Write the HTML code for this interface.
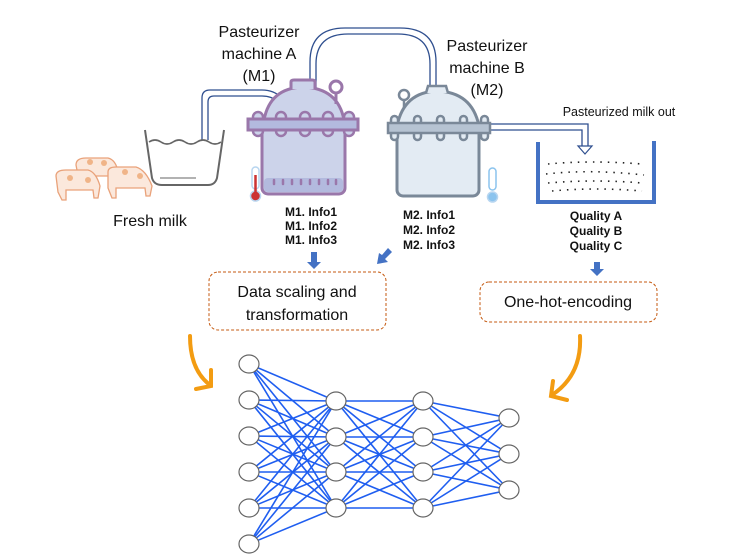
<!DOCTYPE html>
<html><head><meta charset="utf-8"><style>
html,body{margin:0;padding:0;background:#fff;}
svg{display:block;font-family:"Liberation Sans",sans-serif;}
</style></head><body>
<svg width="736" height="556" viewBox="0 0 736 556" xmlns="http://www.w3.org/2000/svg">
<!-- pipes -->
<g fill="none" stroke="#2f4f8f" stroke-width="1.3">
<path d="M202 140 V98 Q202 90 210 90 H262 Q274 90 282 98"/>
<path d="M208 140 V102 Q208 96 214 96 H262 Q272 96 278 102"/>
<path d="M310 92 V62 Q310 28 345 28 H400 Q436 28 436 62 V90"/>
<path d="M316 92 V64 Q316 34 348 34 H398 Q430 34 430 64 V90"/>
<path d="M490 124 H588 V146"/>
<path d="M490 130 H582 V146"/>
</g>
<path d="M578 146 H592 L585 154 Z" fill="#fff" stroke="#2f4f8f" stroke-width="1.2"/>
<!-- tub -->
<path d="M145 130 L152 178 Q154 185 162 185 H208 Q215 185 217 178 L224 130" fill="none" stroke="#666" stroke-width="2"/>
<path d="M149 142 q6 -4 12 0 t12 0 t12 0 t12 0 t12 0 t12 0" fill="none" stroke="#666" stroke-width="1.6"/>
<line x1="160" y1="178" x2="196" y2="178" stroke="#999" stroke-width="1.5"/>
<!-- cows -->
<g fill="#fbe8dc" stroke="#e9a27a" stroke-width="1.3">
<path d="M76 165 Q76 158 86 158 H108 Q116 160 118 172 L116 186 H112 L111 176 H84 V186 H80 Z"/>
<path d="M56 176 Q56 170 66 170 H88 Q96 172 100 186 L98 198 H94 L93 190 H66 V200 H62 L58 192 Z"/>
<path d="M108 172 Q108 167 116 167 H136 Q146 170 152 186 L150 196 H146 L145 188 H116 V198 H112 L108 188 Z"/>
</g>
<g fill="#f0b488"><circle cx="90" cy="162" r="3"/><circle cx="104" cy="163" r="3"/><circle cx="70" cy="178" r="3"/><circle cx="88" cy="180" r="3"/><circle cx="125" cy="172" r="3"/><circle cx="140" cy="176" r="3"/></g>
<text x="150" y="226" font-size="16" text-anchor="middle" fill="#111">Fresh milk</text>
<!-- machine A -->
<text font-size="16" text-anchor="middle" fill="#111"><tspan x="259" y="37">Pasteurizer</tspan><tspan x="259" y="59">machine A</tspan><tspan x="259" y="81">(M1)</tspan></text>
<rect x="262" y="126" width="83" height="68" rx="6" fill="#ccd3ea" stroke="#9a77aa" stroke-width="3"/>
<rect x="264" y="178" width="79" height="14" rx="4" fill="#b3bade"/>
<g stroke="#9a77aa" stroke-width="2.5" stroke-linecap="round"><line x1="274" y1="180" x2="274" y2="184"/><line x1="283" y1="180" x2="283" y2="184"/><line x1="292" y1="180" x2="292" y2="184"/><line x1="301" y1="180" x2="301" y2="184"/><line x1="310" y1="180" x2="310" y2="184"/><line x1="319" y1="180" x2="319" y2="184"/><line x1="328" y1="180" x2="328" y2="184"/><line x1="336" y1="180" x2="336" y2="184"/></g>
<path d="M264 120 Q270 88 303 87 Q338 88 344 120 Z" fill="#ccd3ea" stroke="#9a77aa" stroke-width="3"/>
<path d="M291 89 V82 Q291 80 294 80 H312 Q315 80 315 82 V89" fill="#ccd3ea" stroke="#9a77aa" stroke-width="3"/>
<line x1="336" y1="92" x2="336" y2="104" stroke="#9a77aa" stroke-width="3"/>
<circle cx="336" cy="87" r="6" fill="#fff" stroke="#9a77aa" stroke-width="3"/>
<g fill="#ccd3ea" stroke="#9a77aa" stroke-width="2.5"><rect x="253" y="112" width="10" height="24" rx="5"/><rect x="276" y="112" width="10" height="24" rx="5"/><rect x="300" y="112" width="10" height="24" rx="5"/><rect x="323" y="112" width="10" height="24" rx="5"/><rect x="344" y="112" width="10" height="24" rx="5"/></g>
<rect x="248" y="119" width="110" height="11" fill="#b3bade" stroke="#9a77aa" stroke-width="3"/>
<rect x="252" y="167" width="7" height="22" rx="3.5" fill="#fff" stroke="#b8d6f0" stroke-width="1.5"/>
<circle cx="255.5" cy="196" r="5" fill="#c33" stroke="#b8d6f0" stroke-width="1.5"/>
<line x1="255.5" y1="175" x2="255.5" y2="194" stroke="#c33" stroke-width="2.5"/>
<!-- machine B -->
<text font-size="16" text-anchor="middle" fill="#111"><tspan x="487" y="51">Pasteurizer</tspan><tspan x="487" y="73">machine B</tspan><tspan x="487" y="95">(M2)</tspan></text>
<rect x="397" y="128" width="82" height="68" rx="6" fill="#e3ebf3" stroke="#7a8898" stroke-width="3"/>
<path d="M397 126 Q404 92 437 91 Q472 92 479 126 Z" fill="#e3ebf3" stroke="#7a8898" stroke-width="3"/>
<path d="M426 93 L428 86 H446 L448 93" fill="#e3ebf3" stroke="#7a8898" stroke-width="2.5"/>
<line x1="404" y1="100" x2="404" y2="108" stroke="#7a8898" stroke-width="2.5"/>
<circle cx="404" cy="95" r="5" fill="#fff" stroke="#7a8898" stroke-width="2.5"/>
<g fill="#e3ebf3" stroke="#7a8898" stroke-width="2.5"><rect x="391" y="116" width="7" height="24" rx="3.5"/><rect x="414" y="116" width="7" height="24" rx="3.5"/><rect x="437" y="116" width="7" height="24" rx="3.5"/><rect x="460" y="116" width="7" height="24" rx="3.5"/><rect x="481" y="116" width="7" height="24" rx="3.5"/></g>
<rect x="388" y="123" width="102" height="10" fill="#b6c3d2" stroke="#7a8898" stroke-width="2.5"/>
<rect x="489" y="168" width="7" height="22" rx="3.5" fill="#fff" stroke="#8cc4ee" stroke-width="1.5"/>
<circle cx="492.5" cy="197" r="5" fill="#8cc4ee" stroke="#b8d6f0" stroke-width="1.5"/>
<!-- container -->
<text x="619" y="116" font-size="12.5" text-anchor="middle" fill="#111">Pasteurized milk out</text>
<path d="M538 142 V202 H654 V141" fill="none" stroke="#4472c4" stroke-width="4"/>
<g stroke="#222" stroke-width="1.6" fill="none" stroke-dasharray="1.5 6"><path d="M548 164 Q590 160 642 164"/><path d="M546 174 Q590 169 644 175"/><path d="M548 183 Q595 179 642 183"/><path d="M552 191 Q595 187 642 191"/></g>
<!-- info text -->
<g font-size="12" font-weight="bold" text-anchor="middle" fill="#111">
<text x="311" y="216">M1. Info1</text><text x="311" y="230">M1. Info2</text><text x="311" y="244">M1. Info3</text>
<text x="429" y="219">M2. Info1</text><text x="429" y="234">M2. Info2</text><text x="429" y="249">M2. Info3</text>
<text x="596" y="220">Quality A</text><text x="596" y="235">Quality B</text><text x="596" y="250">Quality C</text>
</g>
<!-- blue arrows -->
<g fill="#4472c4">
<path d="M311 252 H317 V262 H321 L314 269 L307 262 H311 Z"/>
<path d="M594 262 H600 V269 H604 L597 276 L590 269 H594 Z"/>
<path d="M388 248 L392 252 L385 259 L388 262 L377 264 L379 253 L382 255 Z"/>
</g>
<!-- boxes -->
<rect x="209" y="272" width="177" height="58" rx="9" fill="#fff" stroke="#c55a11" stroke-width="1" stroke-dasharray="3 2"/>
<text font-size="16" text-anchor="middle" fill="#111"><tspan x="297" y="297">Data scaling and</tspan><tspan x="297" y="320">transformation</tspan></text>
<rect x="480" y="282" width="177" height="40" rx="9" fill="#fff" stroke="#c55a11" stroke-width="1" stroke-dasharray="3 2"/>
<text x="568" y="307" font-size="16" text-anchor="middle" fill="#111">One-hot-encoding</text>
<!-- orange arrows -->
<g fill="none" stroke="#f39c12" stroke-width="4" stroke-linecap="round">
<path d="M190 336 Q190 370 210 385"/><path d="M196 389 L211 386 L211 370"/>
<path d="M580 336 Q582 375 552 395"/><path d="M553 381 L551 396 L567 400"/>
</g>
<!-- network -->
<g stroke="#1f5ef0" stroke-width="1.6">
<line x1="249" y1="364" x2="336" y2="401"/><line x1="249" y1="364" x2="336" y2="437"/><line x1="249" y1="364" x2="336" y2="472"/><line x1="249" y1="364" x2="336" y2="508"/>
<line x1="249" y1="400" x2="336" y2="401"/><line x1="249" y1="400" x2="336" y2="437"/><line x1="249" y1="400" x2="336" y2="472"/><line x1="249" y1="400" x2="336" y2="508"/>
<line x1="249" y1="436" x2="336" y2="401"/><line x1="249" y1="436" x2="336" y2="437"/><line x1="249" y1="436" x2="336" y2="472"/><line x1="249" y1="436" x2="336" y2="508"/>
<line x1="249" y1="472" x2="336" y2="401"/><line x1="249" y1="472" x2="336" y2="437"/><line x1="249" y1="472" x2="336" y2="472"/><line x1="249" y1="472" x2="336" y2="508"/>
<line x1="249" y1="508" x2="336" y2="401"/><line x1="249" y1="508" x2="336" y2="437"/><line x1="249" y1="508" x2="336" y2="472"/><line x1="249" y1="508" x2="336" y2="508"/>
<line x1="249" y1="544" x2="336" y2="401"/><line x1="249" y1="544" x2="336" y2="437"/><line x1="249" y1="544" x2="336" y2="472"/><line x1="249" y1="544" x2="336" y2="508"/>
<line x1="336" y1="401" x2="423" y2="401"/><line x1="336" y1="401" x2="423" y2="437"/><line x1="336" y1="401" x2="423" y2="472"/><line x1="336" y1="401" x2="423" y2="508"/>
<line x1="336" y1="437" x2="423" y2="401"/><line x1="336" y1="437" x2="423" y2="437"/><line x1="336" y1="437" x2="423" y2="472"/><line x1="336" y1="437" x2="423" y2="508"/>
<line x1="336" y1="472" x2="423" y2="401"/><line x1="336" y1="472" x2="423" y2="437"/><line x1="336" y1="472" x2="423" y2="472"/><line x1="336" y1="472" x2="423" y2="508"/>
<line x1="336" y1="508" x2="423" y2="401"/><line x1="336" y1="508" x2="423" y2="437"/><line x1="336" y1="508" x2="423" y2="472"/><line x1="336" y1="508" x2="423" y2="508"/>
<line x1="423" y1="401" x2="509" y2="418"/><line x1="423" y1="401" x2="509" y2="454"/><line x1="423" y1="401" x2="509" y2="490"/>
<line x1="423" y1="437" x2="509" y2="418"/><line x1="423" y1="437" x2="509" y2="454"/><line x1="423" y1="437" x2="509" y2="490"/>
<line x1="423" y1="472" x2="509" y2="418"/><line x1="423" y1="472" x2="509" y2="454"/><line x1="423" y1="472" x2="509" y2="490"/>
<line x1="423" y1="508" x2="509" y2="418"/><line x1="423" y1="508" x2="509" y2="454"/><line x1="423" y1="508" x2="509" y2="490"/>
</g>
<g fill="#fff" stroke="#666" stroke-width="1.2">
<ellipse cx="249" cy="364" rx="10" ry="9"/><ellipse cx="249" cy="400" rx="10" ry="9"/><ellipse cx="249" cy="436" rx="10" ry="9"/><ellipse cx="249" cy="472" rx="10" ry="9"/><ellipse cx="249" cy="508" rx="10" ry="9"/><ellipse cx="249" cy="544" rx="10" ry="9"/>
<ellipse cx="336" cy="401" rx="10" ry="9"/><ellipse cx="336" cy="437" rx="10" ry="9"/><ellipse cx="336" cy="472" rx="10" ry="9"/><ellipse cx="336" cy="508" rx="10" ry="9"/>
<ellipse cx="423" cy="401" rx="10" ry="9"/><ellipse cx="423" cy="437" rx="10" ry="9"/><ellipse cx="423" cy="472" rx="10" ry="9"/><ellipse cx="423" cy="508" rx="10" ry="9"/>
<ellipse cx="509" cy="418" rx="10" ry="9"/><ellipse cx="509" cy="454" rx="10" ry="9"/><ellipse cx="509" cy="490" rx="10" ry="9"/>
</g>
</svg>
</body></html>
